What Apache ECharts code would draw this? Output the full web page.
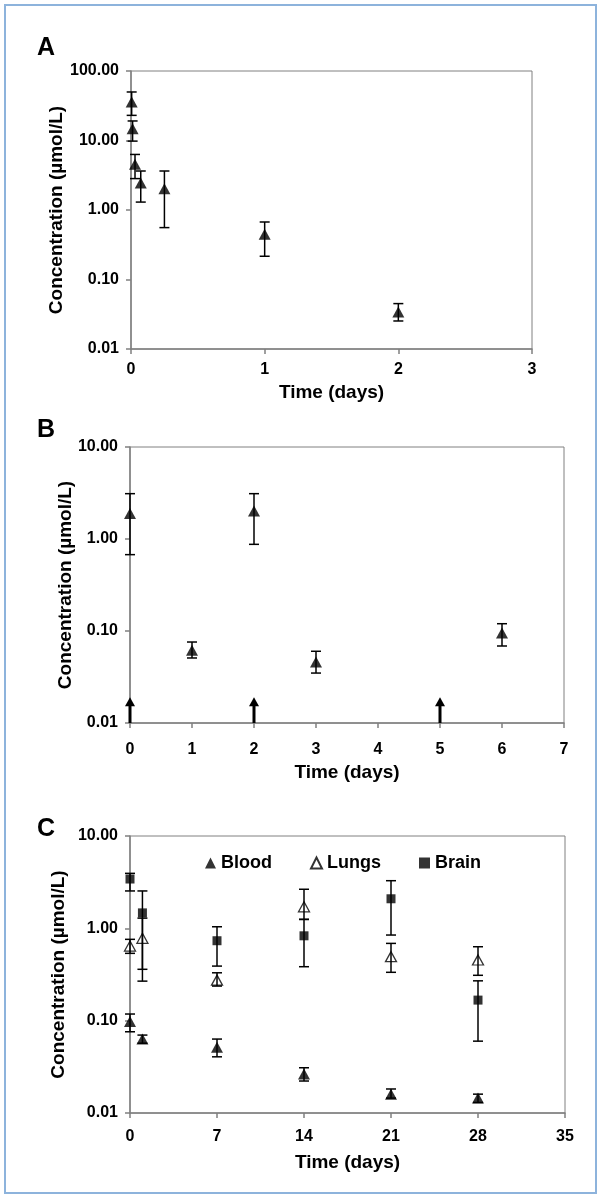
<!DOCTYPE html>
<html>
<head>
<meta charset="utf-8">
<script src="https://cdn.jsdelivr.net/npm/echarts@6/dist/echarts.min.js"></script>
<style>
html,body{margin:0;padding:0;background:#fff;}
#chart{width:600px;height:1198px;}
</style>
</head>
<body>
<div id="chart"></div>
<script>
// ---------- Panel A: single dose, blood ----------
var aTime  = [0.005, 0.012, 0.03, 0.073, 0.25, 1, 2];
var aMean  = [35.8, 14.8, 4.55, 2.44, 2.03, 0.447, 0.034];
var aLow   = [23.0, 9.8, 2.83, 1.30, 0.558, 0.216, 0.0253];
var aHigh  = [49.9, 19.1, 6.3, 3.64, 3.64, 0.672, 0.045];
var aXTicks = [0, 1, 2, 3];

// ---------- Panel B: repeated dosing, blood ----------
var bTime  = [0, 1, 2, 3, 6];
var bMean  = [1.89, 0.0616, 2.01, 0.046, 0.095];
var bLow   = [0.676, 0.0509, 0.875, 0.0349, 0.0687];
var bHigh  = [3.11, 0.0759, 3.11, 0.0602, 0.12];
var bDoseDays = [0, 2, 5];
var bDoseArrowTop = 0.019;

// ---------- Panel C: tissues ----------
var cTime       = [0, 1, 7, 14, 21, 28];
var bloodMean   = [0.098, 0.0632, 0.0514, 0.0264, 0.016, 0.0145];
var bloodLow    = [0.0758, 0.057, 0.0406, 0.0222, 0.0145, 0.013];
var bloodHigh   = [0.118, 0.0698, 0.0632, 0.0309, 0.0182, 0.016];
var lungsMean   = [0.643, 0.78, 0.275, 1.71, 0.493, 0.454];
var lungsLow    = [0.536, 0.268, 0.237, 1.25, 0.334, 0.31];
var lungsHigh   = [0.76, 1.29, 0.33, 2.65, 0.687, 0.632];
var brainMean   = [3.42, 1.47, 0.734, 0.83, 2.09, 0.167];
var brainLow    = [2.54, 0.36, 0.39, 0.384, 0.846, 0.06];
var brainHigh   = [3.94, 2.54, 1.04, 1.25, 3.28, 0.27];
var seriesNames = ['Blood', 'Lungs', 'Brain'];

var panelLetters = ['A', 'B', 'C'];
var yTitle = 'Concentration (\u00b5mol/L)';
var xTitle = 'Time (days)';

var FONT = '"Liberation Sans", Arial, sans-serif';

function pts(xs, ys){ return xs.map(function(x,i){ return [x, ys[i]]; }); }
function errs(xs, lo, hi){ return xs.map(function(x,i){ return [x, lo[i], hi[i]]; }); }

function errRender(params, api){
  var x = api.value(0), lo = api.value(1), hi = api.value(2);
  var p1 = api.coord([x, hi]), p2 = api.coord([x, lo]);
  var w = 5;
  var st = {stroke:'#000', lineWidth:1.5};
  return {type:'group', children:[
    {type:'line', shape:{x1:p1[0], y1:p1[1], x2:p2[0], y2:p2[1]}, style:st},
    {type:'line', shape:{x1:p1[0]-w, y1:p1[1], x2:p1[0]+w, y2:p1[1]}, style:st},
    {type:'line', shape:{x1:p2[0]-w, y1:p2[1], x2:p2[0]+w, y2:p2[1]}, style:st}
  ]};
}

function arrowRender(params, api){
  var x = api.value(0), base = api.value(1), tip = api.value(2);
  var b = api.coord([x, base]), t = api.coord([x, tip]);
  var hw = 5, hh = 9;
  return {type:'group', children:[
    {type:'line', shape:{x1:b[0], y1:b[1], x2:t[0], y2:t[1]+hh-1}, style:{stroke:'#000', lineWidth:3}},
    {type:'polygon', shape:{points:[[t[0], t[1]], [t[0]-hw, t[1]+hh], [t[0]+hw, t[1]+hh]]}, style:{fill:'#000'}}
  ]};
}

function xAxisDef(idx, max, interval, labelMargin, nameGap){
  return {
    type:'value', gridIndex:idx, min:0, max:max, interval:interval,
    name:xTitle, nameLocation:'middle', nameGap:nameGap, nameMoveOverlap:false,
    nameTextStyle:{fontFamily:FONT, fontWeight:'bold', fontSize:19, color:'#000'},
    axisLine:{show:true, lineStyle:{color:'#808080', width:1.5}},
    axisTick:{show:true, inside:false, length:5, lineStyle:{color:'#808080', width:1.5}},
    axisLabel:{margin:labelMargin, fontFamily:FONT, fontWeight:'bold', fontSize:16, color:'#000'},
    splitLine:{show:false}
  };
}
function yAxisDef(idx, min, max, nameGap){
  return {
    type:'log', logBase:10, gridIndex:idx, min:min, max:max,
    name:yTitle, nameLocation:'middle', nameGap:nameGap, nameMoveOverlap:false,
    nameTextStyle:{fontFamily:FONT, fontWeight:'bold', fontSize:19, color:'#000'},
    axisLine:{show:true, lineStyle:{color:'#808080', width:1.5}},
    axisTick:{show:true, inside:false, length:5, lineStyle:{color:'#808080', width:1.5}},
    minorTick:{show:false},
    axisLabel:{margin:12, fontFamily:FONT, fontWeight:'bold', fontSize:16, color:'#000',
      formatter:function(v){ return (+v).toFixed(2); }},
    splitLine:{show:false}
  };
}

var filledTri = {color:'#000'};
var openTri = {color:'rgba(0,0,0,0)', borderColor:'#000', borderWidth:1.3};

var option = {
  animation:false,
  backgroundColor:'#fff',
  graphic:[
    {type:'rect', shape:{x:5, y:5, width:591, height:1188}, style:{fill:'none', stroke:'#8db3dc', lineWidth:2}, silent:true},
    {type:'text', left:37, top:36, style:{text:panelLetters[0], font:'bold 25px '+FONT, fill:'#000'}},
    {type:'text', left:37, top:418, style:{text:panelLetters[1], font:'bold 25px '+FONT, fill:'#000'}},
    {type:'text', left:37, top:817, style:{text:panelLetters[2], font:'bold 25px '+FONT, fill:'#000'}}
  ],
  legend:{
    data:[{name:seriesNames[0]}, {name:seriesNames[1]}, {name:seriesNames[2]}],
    left:200, top:849, itemWidth:11, itemHeight:11, itemGap:38,
    textStyle:{fontFamily:FONT, fontWeight:'bold', fontSize:18, color:'#000'}
  },
  grid:[
    {left:131, top:71, width:401, height:278, show:true, borderColor:'#808080', borderWidth:1},
    {left:130, top:447, width:434, height:276, show:true, borderColor:'#808080', borderWidth:1},
    {left:130, top:836, width:435, height:277, show:true, borderColor:'#808080', borderWidth:1}
  ],
  xAxis:[
    xAxisDef(0, aXTicks[aXTicks.length-1], 1, 13, 34),
    xAxisDef(1, 7, 1, 19, 40),
    xAxisDef(2, 35, 7, 16, 40)
  ],
  yAxis:[
    yAxisDef(0, 0.01, 100, 65),
    yAxisDef(1, 0.01, 10, 55),
    yAxisDef(2, 0.01, 10, 62)
  ],
  series:[
    {type:'custom', name:'A err', xAxisIndex:0, yAxisIndex:0, renderItem:errRender, data:errs(aTime, aLow, aHigh), z:2},
    {type:'scatter', name:'A blood', xAxisIndex:0, yAxisIndex:0, symbol:'triangle', symbolSize:[12,11], itemStyle:filledTri, data:pts(aTime, aMean), z:3},

    {type:'custom', name:'B err', xAxisIndex:1, yAxisIndex:1, renderItem:errRender, data:errs(bTime, bLow, bHigh), z:2},
    {type:'scatter', name:'B blood', xAxisIndex:1, yAxisIndex:1, symbol:'triangle', symbolSize:[12,11], itemStyle:filledTri, data:pts(bTime, bMean), z:3},
    {type:'custom', name:'Dose', xAxisIndex:1, yAxisIndex:1, renderItem:arrowRender,
      data:bDoseDays.map(function(d){ return [d, 0.01, bDoseArrowTop]; }), z:4},

    {type:'custom', name:'Blood err', xAxisIndex:2, yAxisIndex:2, renderItem:errRender, data:errs(cTime, bloodLow, bloodHigh), z:2},
    {type:'custom', name:'Lungs err', xAxisIndex:2, yAxisIndex:2, renderItem:errRender, data:errs(cTime, lungsLow, lungsHigh), z:2},
    {type:'custom', name:'Brain err', xAxisIndex:2, yAxisIndex:2, renderItem:errRender, data:errs(cTime, brainLow, brainHigh), z:2},
    {type:'scatter', name:seriesNames[0], xAxisIndex:2, yAxisIndex:2, symbol:'triangle', symbolSize:[12,11], itemStyle:filledTri, data:pts(cTime, bloodMean), z:3},
    {type:'scatter', name:seriesNames[1], xAxisIndex:2, yAxisIndex:2, symbol:'triangle', symbolSize:[11,10], itemStyle:openTri, data:pts(cTime, lungsMean), z:3},
    {type:'scatter', name:seriesNames[2], xAxisIndex:2, yAxisIndex:2, symbol:'rect', symbolSize:9, itemStyle:{color:'#000'}, data:pts(cTime, brainMean), z:3}
  ]
};

var chart = echarts.init(document.getElementById('chart'), null, {renderer:'canvas'});
chart.setOption(option);
</script>
</body>
</html>
